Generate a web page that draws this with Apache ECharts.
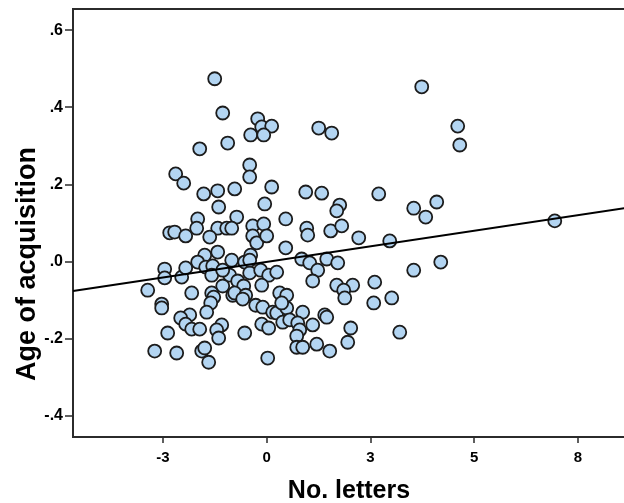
<!DOCTYPE html>
<html>
<head>
<meta charset="utf-8">
<script src="https://cdn.jsdelivr.net/npm/echarts@6/dist/echarts.min.js"></script>
<style>
html,body{margin:0;padding:0;background:#fff;}
#chart{width:624px;height:503px;}
</style>
</head>
<body>
<div id="chart"></div>
<script>
// no. letters (x) and age of acquisition (y)
var letters = [
	-1.253, -1.060, -1.614, -0.940, -0.410, -0.217, -0.120, 0.120, -0.386, -0.072,
	1.253, 1.566, 3.735, 4.602, 4.651, -2.193, -2.000, -1.518, -1.181, -0.771,
	-0.410, -1.157, -0.723, -1.663, -1.687, -1.181, -0.964, -0.843, -0.337, -2.337,
	-2.217, -1.952, -1.373, -0.337, -0.241, -1.181, -1.494, -1.663, -1.470, -1.301,
	-1.325, -0.843, -0.892, -0.530, -0.386, -0.410, -0.699, -1.060, -0.554, -2.458,
	-2.458, -2.048, -1.952, -2.867, -1.807, -1.325, -1.060, -0.819, -1.277, -1.349,
	-2.530, -2.530, -1.446, -1.855, -2.072, -1.952, -1.807, -1.614, -1.084, -1.205,
	-1.157, -2.386, -2.699, -2.169, -1.566, -1.494, -1.398, 0.120, 0.940, 1.325,
	2.699, -0.048, 1.759, 1.687, 3.542, 3.831, 4.096, 0.458, -0.072, 0.000,
	0.964, 0.988, 1.542, 1.807, 2.217, 2.964, 6.940, 0.458, -0.410, 0.843,
	1.036, 1.446, 1.711, 1.229, -0.145, 0.048, 0.241, 1.108, -0.120, 1.687,
	2.072, 1.855, 2.602, 3.542, 4.193, -0.771, -0.506, -0.578, 0.313, 0.482,
	-0.265, -0.096, 0.145, 0.241, 0.482, 0.867, 1.398, 1.446, 0.386, 0.554,
	0.747, 0.795, 1.108, -0.120, 0.048, -0.530, 0.723, 0.723, 0.867, 1.205,
	1.518, 0.024, 1.880, 3.012, 2.578, 0.361, 2.024, 1.952, 3.205
];
var aoa = [
	0.474, 0.385, 0.292, 0.307, 0.250, 0.370, 0.349, 0.351, 0.328, 0.328,
	0.346, 0.333, 0.453, 0.351, 0.302, 0.227, 0.203, 0.175, 0.183, 0.188,
	0.219, 0.141, 0.115, 0.110, 0.086, 0.086, 0.086, 0.086, 0.092, 0.074,
	0.076, 0.066, 0.063, 0.066, 0.048, 0.024, 0.016, -0.002, -0.015, -0.012,
	-0.036, 0.003, -0.036, -0.002, 0.016, -0.030, -0.051, -0.064, -0.064, -0.020,
	-0.043, -0.041, -0.017, -0.075, -0.082, -0.082, -0.023, -0.088, -0.093, -0.108,
	-0.111, -0.121, -0.132, -0.139, -0.147, -0.163, -0.176, -0.176, -0.165, -0.178,
	-0.199, -0.186, -0.233, -0.238, -0.233, -0.225, -0.262, 0.193, 0.180, 0.177,
	0.175, 0.149, 0.146, 0.131, 0.138, 0.115, 0.154, 0.110, 0.097, 0.066,
	0.086, 0.068, 0.079, 0.092, 0.061, 0.053, 0.105, 0.035, 0.003, 0.006,
	-0.004, 0.006, -0.004, -0.023, -0.023, -0.036, -0.028, -0.051, -0.062, -0.062,
	-0.062, -0.075, -0.054, -0.023, -0.002, -0.082, -0.088, -0.098, -0.082, -0.088,
	-0.114, -0.119, -0.132, -0.134, -0.121, -0.132, -0.139, -0.145, -0.158, -0.152,
	-0.160, -0.178, -0.165, -0.163, -0.173, -0.186, -0.194, -0.223, -0.223, -0.215,
	-0.233, -0.251, -0.095, -0.095, -0.108, -0.108, -0.173, -0.210, -0.184
];

var xTicks = [-2.5, 0, 2.5, 5, 7.5];
var xTickLabels = ['-3', '0', '3', '5', '8'];
var yTicks = [-0.4, -0.2, 0, 0.2, 0.4, 0.6];
var yTickLabels = ['-.4', '-.2', '.0', '.2', '.4', '.6'];

// linear fit line
var fitIntercept = -0.0014;
var fitSlope = 0.0162;

var xMin = -4.667, xMax = 9.09;
var yMin = -0.456, yMax = 0.655;

var points = [];
for (var i = 0; i < letters.length; i++) {
	points.push([letters[i], aoa[i]]);
}
var fitLine = [
	[xMin, fitIntercept + fitSlope * xMin],
	[xMax, fitIntercept + fitSlope * xMax]
];

function lookup(ticks, labels, v) {
	for (var k = 0; k < ticks.length; k++) {
		if (Math.abs(ticks[k] - v) < 1e-6) return labels[k];
	}
	return '';
}

var myChart = echarts.init(document.getElementById('chart'));
myChart.setOption({
	animation: false,
	grid: {
		left: 73,
		width: 571,
		top: 9,
		bottom: 66,
		outerBoundsMode: 'none',
		containLabel: false,
		show: true,
		borderColor: '#2b2b2b',
		borderWidth: 2,
		backgroundColor: 'transparent'
	},
	// axis titles
	graphic: [{
		type: 'text',
		x: 28,
		y: 264,
		rotation: Math.PI / 2,
		style: {
			text: 'Age of acquisition',
			fill: '#000',
			font: 'bold 27px "Liberation Sans", Arial, sans-serif',
			align: 'center',
			verticalAlign: 'middle'
		}
	}, {
		type: 'text',
		x: 349,
		y: 491,
		style: {
			text: 'No. letters',
			fill: '#000',
			font: 'bold 25px "Liberation Sans", Arial, sans-serif',
			align: 'center',
			verticalAlign: 'middle'
		}
	}],
	xAxis: {
		type: 'value',
		min: xMin,
		max: xMax,
		axisLine: {show: true, onZero: false, lineStyle: {color: '#2b2b2b', width: 2}},
		axisTick: {show: true, length: 6, customValues: xTicks, lineStyle: {color: '#2b2b2b', width: 1.5}},
		axisLabel: {
			customValues: xTicks,
			margin: 13,
			color: '#000',
			fontFamily: 'Liberation Sans',
			fontWeight: 'bold',
			fontSize: 15,
			formatter: function (v) { return lookup(xTicks, xTickLabels, v); }
		},
		splitLine: {show: false}
	},
	yAxis: {
		type: 'value',
		min: yMin,
		max: yMax,
		axisLine: {show: true, onZero: false, lineStyle: {color: '#2b2b2b', width: 2}},
		axisTick: {show: true, length: 8, customValues: yTicks, lineStyle: {color: '#2b2b2b', width: 1.5}},
		axisLabel: {
			customValues: yTicks,
			margin: 10,
			color: '#000',
			fontFamily: 'Liberation Sans',
			fontWeight: 'bold',
			fontSize: 16,
			formatter: function (v) { return lookup(yTicks, yTickLabels, v); }
		},
		splitLine: {show: false}
	},
	series: [
		{
			type: 'scatter',
			data: points,
			symbol: 'circle',
			symbolSize: 13,
			itemStyle: {
				color: '#b3d5f2',
				borderColor: '#1c1c1c',
				borderWidth: 1.8,
				opacity: 1
			},
			z: 2
		},
		{
			type: 'line',
			data: fitLine,
			symbol: 'none',
			lineStyle: {color: '#000', width: 2},
			z: 3
		}
	]
});
</script>
</body>
</html>
